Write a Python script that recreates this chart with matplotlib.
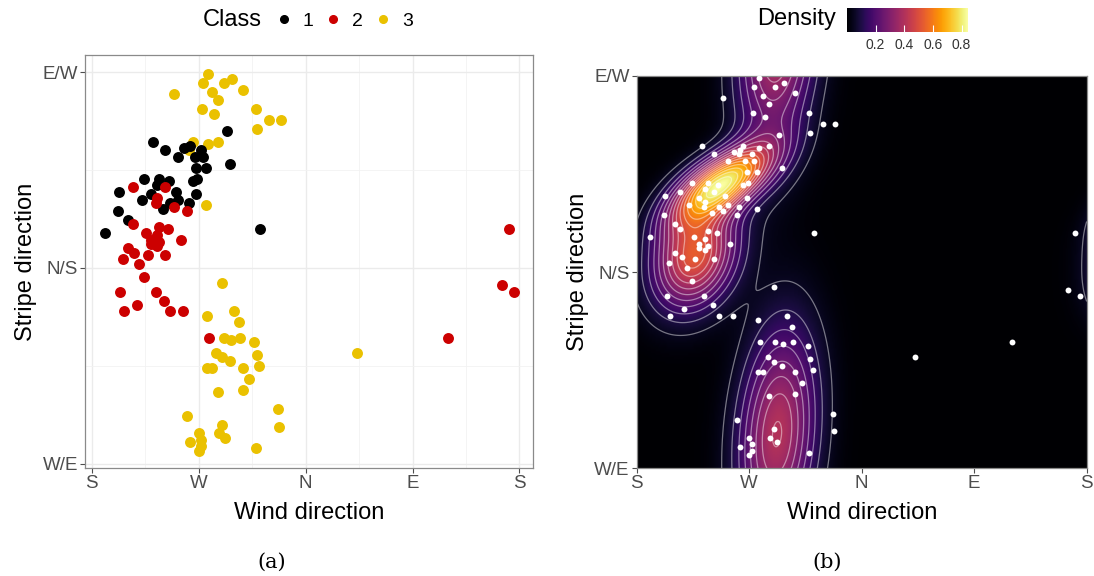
"""
Wind direction vs stripe direction: class scatter (a) and circular density (b)
"""
import numpy as np
import matplotlib
matplotlib.use("Agg")
import matplotlib.pyplot as plt
from matplotlib.lines import Line2D

plt.rcParams["font.family"] = ["Liberation Sans", "DejaVu Sans"]

# -----------------------------
# Data (degrees). Wind: S=0, W=90, N=180, E=270, S=360
# Stripe: W/E=0, N/S=90, E/W=180
# -----------------------------
wind_1 = [114, 52, 62, 78, 83, 73, 87, 92, 94, 88, 96, 89, 85, 88, 116, 44,
          57, 65, 55, 50, 71, 73, 66, 60, 82, 23, 42, 22, 31, 11, 142]
stripe_1 = [153, 148, 144, 145, 146, 141, 141, 144, 141, 136, 136, 131, 130, 124, 138, 131,
            131, 130, 128, 124, 125, 121, 120, 117, 120, 125, 121, 116, 112, 106, 108]

wind_2 = [35, 62, 55, 54, 69, 80, 35, 57, 64, 46, 55, 50, 57, 75, 31, 36, 26, 40,
          47, 55, 50, 62, 44, 24, 54, 61, 38, 27, 66, 77, 99, 351, 345, 355, 300]
stripe_2 = [127, 127, 122, 120, 118, 116, 110, 109, 108, 106, 105, 103, 102, 103, 99, 97, 94, 92,
            96, 100, 101, 96, 86, 79, 79, 75, 73, 70, 70, 70, 58, 108, 82, 79, 58]

wind_3 = [98, 94, 111, 118, 69, 101, 106, 127, 93, 103, 138, 149, 159, 139, 98, 106, 85, 82, 96,
          110, 120, 97, 124, 111, 117, 125, 137, 139, 105, 110, 116, 97, 101, 127, 141, 132,
          106, 127, 157, 158, 80, 110, 107, 112, 90, 83, 92, 92, 90, 138, 223]
stripe_3 = [179, 175, 175, 177, 170, 171, 167, 172, 163, 161, 163, 158, 158, 154, 147, 148, 148, 144, 119,
            83, 70, 68, 65, 58, 57, 58, 56, 50, 51, 49, 47, 44, 44, 44, 45, 39,
            33, 34, 25, 17, 22, 18, 14, 12, 14, 10, 11, 8, 6, 7, 51]

class_labels = ["1", "2", "3"]
class_colors = ["#000000", "#CC0000", "#EAC100"]

x_ticks = [0, 90, 180, 270, 360]
x_ticklabels = ["S", "W", "N", "E", "S"]
y_ticks = [0, 90, 180]
y_ticklabels = ["W/E", "N/S", "E/W"]

# top of the density legend in the reference
density_peak = 0.845

TICK_GREY = "#4D4D4D"

fig = plt.figure(figsize=(10.94, 5.76), dpi=100)
W, H = 1094, 576


def px_axes(x0, y0, x1, y1):
    return fig.add_axes([x0 / W, 1 - y1 / H, (x1 - x0) / W, (y1 - y0) / H])


def style_axes(ax):
    ax.set_xticks(x_ticks)
    ax.set_xticklabels(x_ticklabels)
    ax.set_yticks(y_ticks)
    ax.set_yticklabels(y_ticklabels)
    ax.tick_params(colors=TICK_GREY, labelsize=13.5, length=3.5, width=0.8, pad=1.5)
    for s in ax.spines.values():
        s.set_color("#8A8A8A")
        s.set_linewidth(0.9)
    ax.set_xlabel("Wind direction", fontsize=17, labelpad=7)
    ax.set_ylabel("Stripe direction", fontsize=17, labelpad=4)


def wrap(d, period):
    return (d + period / 2) % period - period / 2


def circ_mean(v, period):
    a = np.asarray(v, dtype=float) * 2 * np.pi / period
    m = np.arctan2(np.sin(a).mean(), np.cos(a).mean())
    return (m * period / (2 * np.pi)) % period


def robust_moments(xs, ys, n_iter=2, cutoff=9.0):
    # wrapped mean / covariance, dropping points far out (Mahalanobis^2 > cutoff)
    keep = np.ones(len(xs), dtype=bool)
    for _ in range(n_iter + 1):
        mx, my = circ_mean(xs[keep], 360), circ_mean(ys[keep], 180)
        dx, dy = wrap(xs - mx, 360), wrap(ys - my, 180)
        cov = np.cov(dx[keep], dy[keep])
        inv = np.linalg.inv(cov)
        d2 = inv[0, 0] * dx ** 2 + 2 * inv[0, 1] * dx * dy + inv[1, 1] * dy ** 2
        keep = d2 < cutoff
    return mx, my, cov


# -----------------------------
# (a) scatter by class
# -----------------------------
ax1 = px_axes(85, 55, 533, 468)
ax1.set_xlim(-5.6, 371.4)
ax1.set_ylim(-2.0, 187.9)
ax1.set_xticks([45, 135, 225, 315], minor=True)
ax1.set_yticks([45, 135], minor=True)
ax1.grid(which="major", color="#EBEBEB", linewidth=1.0)
ax1.grid(which="minor", color="#F2F2F2", linewidth=0.6)
ax1.tick_params(which="minor", length=0)
ax1.set_axisbelow(True)

ax1.scatter(wind_3, stripe_3, s=62, color=class_colors[2], linewidths=0, zorder=3)
ax1.scatter(wind_1, stripe_1, s=62, color=class_colors[0], linewidths=0, zorder=3)
ax1.scatter(wind_2, stripe_2, s=62, color=class_colors[1], linewidths=0, zorder=3)
style_axes(ax1)

fig.text(232 / W, 1 - 20 / H, "Class", fontsize=17, ha="center", va="center")
handles = [Line2D([], [], marker="o", linestyle="", color=c, markersize=5.5) for c in class_colors]
fig.legend(handles, class_labels, ncol=3, frameon=False, loc="center left",
           bbox_to_anchor=(274 / W, 1 - 21 / H), fontsize=14, handlelength=1.0,
           handletextpad=0.45, columnspacing=0.55, borderaxespad=0, borderpad=0)

# -----------------------------
# (b) density: mixture of wrapped normals, one per class
# -----------------------------
gx = np.linspace(0, 360, 361)
gy = np.linspace(0, 180, 181)
GX, GY = np.meshgrid(gx, gy)
classes = [(wind_1, stripe_1), (wind_2, stripe_2), (wind_3, stripe_3)]
n_total = sum(len(c[0]) for c in classes)

dens = np.zeros_like(GX)
for xs, ys in classes:
    xs = np.asarray(xs, dtype=float)
    ys = np.asarray(ys, dtype=float)
    mx, my, cov = robust_moments(xs, ys)
    inv = np.linalg.inv(cov)
    norm = len(xs) / n_total / (2 * np.pi * np.sqrt(np.linalg.det(cov)))
    for kx in (-360, 0, 360):
        for ky in (-180, 0, 180):
            dx = GX - mx - kx
            dy = GY - my - ky
            q = inv[0, 0] * dx ** 2 + 2 * inv[0, 1] * dx * dy + inv[1, 1] * dy ** 2
            dens += norm * np.exp(-0.5 * q)
dens *= density_peak / dens.max()

all_wind = wind_1 + wind_2 + wind_3
all_stripe = stripe_1 + stripe_2 + stripe_3

ax2 = px_axes(636.7, 76, 1086.7, 468.3)
im = ax2.imshow(dens, origin="lower", extent=(0, 360, 0, 180), aspect="auto",
                cmap="inferno", vmin=0, vmax=dens.max(), interpolation="bilinear")
levels = np.arange(0.05, dens.max(), 0.05)
ax2.contour(gx, gy, dens, levels=levels, colors="white", linewidths=0.9, alpha=0.45)
ax2.scatter(all_wind, all_stripe, s=18, color="white", linewidths=0, zorder=4)
ax2.set_xlim(0, 360)
ax2.set_ylim(0, 180)
style_axes(ax2)

cax = fig.add_axes([847 / W, 1 - 32 / H, 121 / W, 24 / H])
cb = fig.colorbar(im, cax=cax, orientation="horizontal", ticks=[0.2, 0.4, 0.6, 0.8])
cb.outline.set_visible(False)
cax.tick_params(colors="white", direction="in", length=5, width=0.8, labelsize=10, pad=4)
for t in cax.get_xticklabels():
    t.set_color("#333333")
fig.text(797 / W, 1 - 19 / H, "Density", fontsize=17, ha="center", va="center")

# captions
fig.text(272 / W, 1 - 562 / H, "(a)", fontsize=15, family="DejaVu Serif", ha="center", va="center")
fig.text(827 / W, 1 - 562 / H, "(b)", fontsize=15, family="DejaVu Serif", ha="center", va="center")

fig.savefig("out.png", dpi=100)
